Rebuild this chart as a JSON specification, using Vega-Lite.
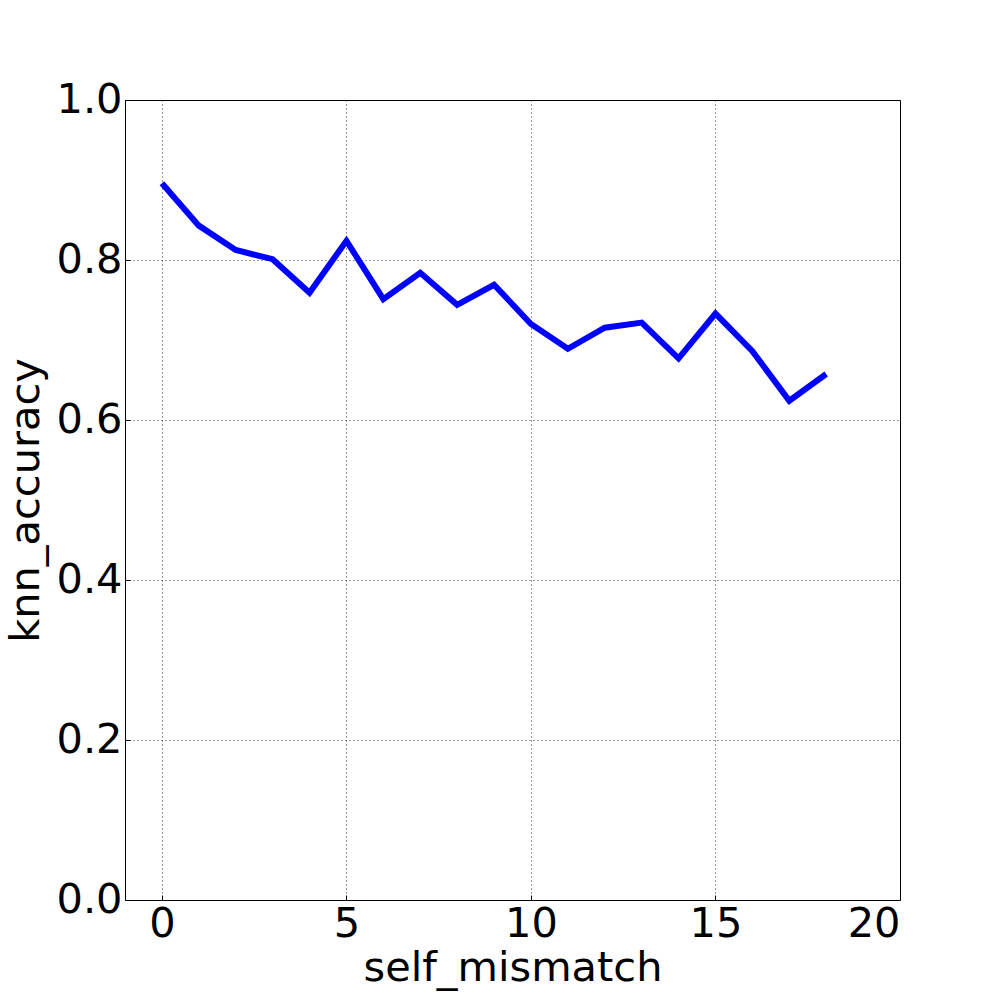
{
  "$schema": "https://vega.github.io/schema/vega-lite/v6.json",
  "autosize": "none",
  "padding": {"left": 125, "top": 100, "right": 100, "bottom": 100},
  "width": 775,
  "height": 800,
  "background": "white",
  "config": {
    "font": "DejaVu Sans",
    "view": {"stroke": "black", "strokeWidth": 1},
    "axis": {
      "labelFont": "DejaVu Sans",
      "titleFont": "DejaVu Sans",
      "labelFontSize": 41.5,
      "titleFontSize": 41.5,
      "labelColor": "black",
      "titleColor": "black",
      "titleFontWeight": "normal",
      "domain": false,
      "tickColor": "black",
      "tickSize": -5,
      "grid": true,
      "gridColor": "black",
      "gridOpacity": 1,
      "gridWidth": 0.8,
      "gridDash": [1, 3]
    }
  },
  "data": {
    "values": [
      {"self_mismatch": 0, "knn_accuracy": 0.896},
      {"self_mismatch": 1, "knn_accuracy": 0.843},
      {"self_mismatch": 2, "knn_accuracy": 0.8125},
      {"self_mismatch": 3, "knn_accuracy": 0.801},
      {"self_mismatch": 4, "knn_accuracy": 0.759},
      {"self_mismatch": 5, "knn_accuracy": 0.824},
      {"self_mismatch": 6, "knn_accuracy": 0.751},
      {"self_mismatch": 7, "knn_accuracy": 0.784},
      {"self_mismatch": 8, "knn_accuracy": 0.744},
      {"self_mismatch": 9, "knn_accuracy": 0.769},
      {"self_mismatch": 10, "knn_accuracy": 0.72},
      {"self_mismatch": 11, "knn_accuracy": 0.689},
      {"self_mismatch": 12, "knn_accuracy": 0.7154},
      {"self_mismatch": 13, "knn_accuracy": 0.7217},
      {"self_mismatch": 14, "knn_accuracy": 0.677},
      {"self_mismatch": 15, "knn_accuracy": 0.733},
      {"self_mismatch": 16, "knn_accuracy": 0.686},
      {"self_mismatch": 17, "knn_accuracy": 0.624},
      {"self_mismatch": 18, "knn_accuracy": 0.6575}
    ]
  },
  "mark": {"type": "line", "color": "#0000ff", "strokeWidth": 6, "strokeJoin": "miter", "strokeCap": "butt"},
  "encoding": {
    "x": {
      "field": "self_mismatch",
      "type": "quantitative",
      "scale": {"domain": [-1, 20], "nice": false, "zero": false},
      "axis": {"values": [0, 5, 10, 15, 20], "title": "self_mismatch", "labelPadding": 8, "titlePadding": 3, "format": "d"}
    },
    "y": {
      "field": "knn_accuracy",
      "type": "quantitative",
      "scale": {"domain": [0, 1], "nice": false},
      "axis": {"values": [0, 0.2, 0.4, 0.6, 0.8, 1.0], "format": ".1f", "title": "knn_accuracy", "labelPadding": 8, "titlePadding": 9}
    }
  }
}
